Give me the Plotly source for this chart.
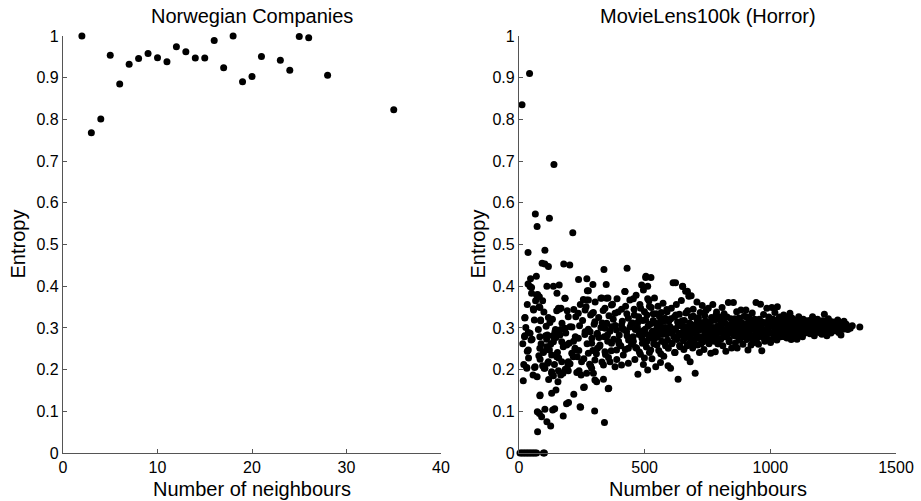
import plotly.graph_objects as go

# ---------------- Norwegian Companies ----------------
nor_neighbours = [2, 3, 4, 5, 6, 7, 8, 9, 10, 11, 12, 13, 14, 15, 16, 17, 18,
                  19, 20, 21, 23, 24, 25, 26, 28, 35]
nor_entropy = [1.0, 0.768, 0.801, 0.954, 0.885, 0.932, 0.946, 0.958, 0.948,
               0.938, 0.974, 0.962, 0.947, 0.947, 0.989, 0.924, 1.0, 0.890,
               0.903, 0.951, 0.942, 0.918, 0.999, 0.996, 0.906, 0.823]

# ---------------- MovieLens100k (Horror) ----------------
sparse_x = [12, 42, 139, 65, 72, 121, 36, 214, 103, 23, 17, 92, 103, 117, 69, 46, 36, 50,
            111, 137, 160, 178, 202, 237, 270, 294, 338, 347, 430, 505, 525, 512, 623, 651,
            670, 677, 685, 329, 354, 390, 422, 455, 495, 512, 272, 256, 276, 292, 183, 151,
            160, 167, 218, 244, 58, 80, 50, 70, 81, 123, 86, 23, 37, 48, 33, 97, 106, 110,
            126, 134, 147, 163, 176, 153, 31, 62, 72, 84, 94, 100, 114, 130, 137, 155, 166,
            175, 184, 195, 203, 216, 223, 232, 239, 247, 257, 269, 285, 296, 302, 309, 336,
            357, 84, 130, 147, 218, 73, 81, 90, 103, 111, 126, 134, 142, 176, 189, 197, 243,
            301, 340, 74, 83, 260, 355, 245]
sparse_y = [0.835, 0.910, 0.692, 0.573, 0.543, 0.563, 0.481, 0.528, 0.486, 0.324, 0.173,
            0.455, 0.453, 0.447, 0.424, 0.418, 0.405, 0.397, 0.400, 0.400, 0.403, 0.453,
            0.451, 0.416, 0.418, 0.404, 0.440, 0.404, 0.443, 0.424, 0.421, 0.400, 0.408,
            0.400, 0.388, 0.377, 0.377, 0.372, 0.372, 0.370, 0.387, 0.370, 0.391, 0.370,
            0.389, 0.368, 0.367, 0.335, 0.371, 0.383, 0.345, 0.347, 0.344, 0.356, 0.343,
            0.351, 0.383, 0.379, 0.375, 0.313, 0.317, 0.281, 0.289, 0.271, 0.244, 0.241,
            0.281, 0.273, 0.261, 0.281, 0.277, 0.283, 0.255, 0.241, 0.203, 0.205, 0.183,
            0.225, 0.209, 0.203, 0.215, 0.191, 0.185, 0.171, 0.187, 0.191, 0.201, 0.211,
            0.214, 0.231, 0.247, 0.231, 0.197, 0.187, 0.157, 0.191, 0.209, 0.191, 0.175,
            0.171, 0.177, 0.155, 0.139, 0.143, 0.151, 0.141, 0.099, 0.095, 0.087, 0.105,
            0.075, 0.065, 0.103, 0.106, 0.089, 0.118, 0.121, 0.111, 0.101, 0.073, 0.051,
            0.137, 0.158, 0.154, 0.110]

sparse2_x = [15, 27, 38, 52, 61, 77, 88, 99, 108, 121,
             133, 145, 158, 171, 186, 199, 211, 224, 238, 19,
             33, 56, 79, 94, 118, 141, 166, 192, 217, 241]
sparse2_y = [0.262, 0.301, 0.228, 0.273, 0.319, 0.296, 0.262, 0.338, 0.304, 0.247,
             0.321, 0.296, 0.228, 0.311, 0.288, 0.263, 0.302, 0.279, 0.246, 0.212,
             0.356, 0.187, 0.233, 0.365, 0.176, 0.212, 0.296, 0.341, 0.268, 0.305]

zero_x = [4, 10, 16, 22, 28, 34, 40, 46, 52, 58, 64, 70, 97, 101]
zero_y = [0, 0, 0, 0, 0, 0, 0, 0, 0, 0, 0, 0, 0, 0]

band0_x = [44, 74, 66, 57, 83, 24, 86, 117, 157, 150, 183, 196, 226, 236, 263, 269, 276,
           296, 302, 326, 348, 342, 368, 382, 408, 421, 441, 435, 183, 203, 143, 113, 157,
           44, 22, 83, 37, 83, 110, 137, 170, 190, 223, 236, 263, 283, 310, 342, 368, 388,
           408, 428, 441, 289, 322, 342, 368, 388, 415, 435, 276, 249, 210, 196, 170, 150,
           130, 117, 97, 302, 336, 362, 382, 408, 435, 289, 31, 64, 103, 130, 157, 196, 230,
           318, 331, 352, 375, 396, 412, 424, 446, 312, 356, 398, 430]
band0_y = [0.399, 0.380, 0.365, 0.346, 0.349, 0.325, 0.319, 0.325, 0.347, 0.341, 0.371,
           0.327, 0.327, 0.335, 0.343, 0.367, 0.389, 0.337, 0.315, 0.371, 0.371, 0.347,
           0.355, 0.335, 0.345, 0.387, 0.367, 0.323, 0.299, 0.303, 0.291, 0.283, 0.285,
           0.287, 0.279, 0.279, 0.247, 0.251, 0.255, 0.267, 0.267, 0.259, 0.251, 0.275,
           0.291, 0.291, 0.285, 0.299, 0.303, 0.295, 0.307, 0.291, 0.275, 0.263, 0.259,
           0.243, 0.263, 0.247, 0.235, 0.251, 0.239, 0.219, 0.239, 0.219, 0.219, 0.231,
           0.235, 0.219, 0.243, 0.223, 0.211, 0.219, 0.207, 0.211, 0.215, 0.203, 0.205,
           0.207, 0.203, 0.195, 0.197, 0.197, 0.193, 0.277, 0.312, 0.283, 0.321, 0.268,
           0.298, 0.352, 0.309, 0.251, 0.229, 0.262, 0.281]

band0b_x = [253, 258, 262, 267, 271, 276, 281, 285, 290, 294,
            299, 303, 308, 312, 317, 321, 326, 330, 335, 339,
            344, 349, 353, 358, 362, 367, 372, 377, 383, 389,
            394, 399, 405, 411, 417, 423, 429, 436, 442, 448]
band0b_y = [0.318, 0.226, 0.284, 0.351, 0.262, 0.297, 0.213, 0.331, 0.275, 0.246,
            0.309, 0.362, 0.238, 0.287, 0.325, 0.256, 0.301, 0.218, 0.342, 0.279,
            0.236, 0.311, 0.268, 0.329, 0.292, 0.245, 0.357, 0.273, 0.306, 0.224,
            0.338, 0.283, 0.257, 0.316, 0.296, 0.248, 0.334, 0.271, 0.302, 0.261]

band1_x = [452, 455, 458, 461, 463, 466, 468, 471, 473, 476, 478, 481, 483, 486, 488, 491,
           493, 495, 497, 499,
           502, 504, 507, 509, 512, 514, 517, 519, 521, 524, 526, 529, 531, 534, 536, 539,
           541, 544, 546, 549,
           551, 553, 556, 558, 561, 563, 566, 568, 571, 573, 576, 578, 581, 583, 586, 588,
           591, 593, 596, 598,
           601, 603, 606, 608, 611, 613, 616, 618, 621, 623, 626, 628, 631, 633, 636, 638,
           641, 644, 646, 649,
           651, 653, 656, 658, 661, 663, 666, 669, 671, 673, 676, 678, 681, 683, 686, 688,
           691, 693, 696, 698,
           701, 703, 706, 708, 711, 714, 716, 718, 721, 724, 726, 729, 731, 734, 736, 739,
           741, 744, 746, 749]
band1_y = [0.312, 0.268, 0.345, 0.224, 0.296, 0.378, 0.251, 0.302, 0.189, 0.327, 0.284,
           0.356, 0.237, 0.291, 0.403, 0.263, 0.318, 0.212, 0.287, 0.339,
           0.297, 0.421, 0.254, 0.331, 0.199, 0.283, 0.365, 0.241, 0.309, 0.276, 0.349,
           0.226, 0.292, 0.318, 0.262, 0.372, 0.286, 0.207, 0.334, 0.301,
           0.278, 0.352, 0.246, 0.311, 0.289, 0.217, 0.337, 0.268, 0.301, 0.359, 0.232,
           0.294, 0.323, 0.257, 0.285, 0.344, 0.271, 0.209, 0.316, 0.292,
           0.303, 0.203, 0.347, 0.262, 0.291, 0.408, 0.279, 0.326, 0.241, 0.298, 0.356,
           0.272, 0.314, 0.177, 0.287, 0.333, 0.255, 0.305, 0.366, 0.282,
           0.399, 0.291, 0.248, 0.318, 0.276, 0.388, 0.302, 0.229, 0.341, 0.284, 0.376,
           0.263, 0.219, 0.309, 0.327, 0.287, 0.252, 0.345, 0.297, 0.272,
           0.191, 0.308, 0.283, 0.362, 0.259, 0.324, 0.295, 0.241, 0.337, 0.279, 0.312,
           0.354, 0.266, 0.298, 0.248, 0.329, 0.287, 0.316, 0.271, 0.303]

band1b_x = [454, 459, 464, 469, 474, 479, 484, 489, 494, 499,
            504, 509, 514, 519, 524, 529, 534, 539, 544, 549,
            554, 559, 564, 569, 574, 579, 584, 589, 594, 599,
            604, 609, 614, 619, 624, 629, 634, 639, 644, 649,
            654, 659, 664, 669, 674, 679, 684, 689, 694, 699,
            704, 709, 714, 719, 724, 729, 734, 739, 744, 749]
band1b_y = [0.279, 0.331, 0.253, 0.298, 0.314, 0.242, 0.347, 0.276, 0.293, 0.228,
            0.319, 0.268, 0.305, 0.352, 0.247, 0.289, 0.334, 0.274, 0.311, 0.259,
            0.296, 0.327, 0.238, 0.284, 0.316, 0.265, 0.301, 0.339, 0.251, 0.288,
            0.322, 0.263, 0.297, 0.241, 0.331, 0.278, 0.306, 0.258, 0.287, 0.317,
            0.269, 0.302, 0.336, 0.257, 0.291, 0.312, 0.274, 0.298, 0.328, 0.261,
            0.289, 0.318, 0.275, 0.304, 0.262, 0.296, 0.313, 0.281, 0.342, 0.291]

band2_x = [751, 753, 756, 758, 761, 763, 766, 768, 771, 773, 776, 778, 781, 783, 786, 788,
           791, 793, 796, 798,
           801, 803, 806, 808, 811, 813, 816, 818, 821, 823, 826, 828, 831, 833, 836, 838,
           841, 843, 846, 848,
           851, 853, 856, 858, 861, 863, 866, 868, 871, 873, 876, 878, 881, 883, 886, 888,
           891, 893, 896, 898,
           901, 903, 906, 908, 911, 913, 916, 918, 921, 923, 926, 928, 931, 933, 936, 938,
           941, 943, 946, 948,
           951, 953, 956, 958, 961, 963, 966, 968, 971, 973, 976, 978, 981, 983, 986, 988,
           991, 993, 996, 998,
           1001, 1003, 1006, 1008, 1011, 1013, 1016, 1018, 1021, 1023, 1026, 1028, 1031,
           1033, 1036, 1038, 1041, 1043, 1046, 1048]
band2_y = [0.286, 0.347, 0.262, 0.311, 0.297, 0.239, 0.325, 0.281, 0.356, 0.301, 0.268,
           0.319, 0.243, 0.292, 0.338, 0.276, 0.305, 0.262, 0.327, 0.289,
           0.318, 0.273, 0.301, 0.349, 0.257, 0.292, 0.334, 0.279, 0.311, 0.244, 0.297,
           0.326, 0.284, 0.361, 0.267, 0.306, 0.289, 0.322, 0.252, 0.296,
           0.303, 0.361, 0.281, 0.317, 0.264, 0.297, 0.339, 0.252, 0.309, 0.287, 0.324,
           0.271, 0.299, 0.343, 0.278, 0.312, 0.261, 0.293, 0.328, 0.284,
           0.295, 0.343, 0.272, 0.311, 0.247, 0.302, 0.326, 0.284, 0.317, 0.259, 0.298,
           0.336, 0.279, 0.308, 0.265, 0.321, 0.289, 0.361, 0.274, 0.305,
           0.307, 0.261, 0.321, 0.283, 0.357, 0.296, 0.245, 0.314, 0.277, 0.332, 0.292,
           0.268, 0.311, 0.286, 0.347, 0.299, 0.273, 0.318, 0.289, 0.303,
           0.265, 0.312, 0.349, 0.288, 0.321, 0.276, 0.302, 0.337, 0.291, 0.314, 0.271,
           0.351, 0.297, 0.282, 0.326, 0.305, 0.279, 0.318, 0.293, 0.309]

band2b_x = [754, 761, 769, 776, 784, 791, 799, 806, 814, 821,
            829, 836, 844, 851, 859, 866, 874, 881, 889, 896,
            904, 911, 919, 926, 934, 941, 949, 956, 964, 971,
            979, 986, 994, 1001, 1009, 1016, 1024, 1031, 1039, 1046]
band2b_y = [0.304, 0.273, 0.318, 0.289, 0.331, 0.262, 0.297, 0.312, 0.281, 0.326,
            0.293, 0.271, 0.308, 0.287, 0.322, 0.296, 0.276, 0.314, 0.301, 0.283,
            0.327, 0.291, 0.306, 0.274, 0.315, 0.298, 0.285, 0.319, 0.301, 0.279,
            0.312, 0.294, 0.326, 0.288, 0.305, 0.281, 0.317, 0.298, 0.308, 0.287]

band3_x = [1051, 1053, 1056, 1058, 1061, 1063, 1066, 1068, 1071, 1073, 1076, 1078, 1081,
           1083, 1086, 1088, 1091, 1093, 1096, 1098,
           1101, 1103, 1106, 1108, 1111, 1113, 1116, 1118, 1121, 1123, 1126, 1128, 1131,
           1133, 1136, 1138, 1141, 1143, 1146, 1148,
           1152, 1155, 1158, 1161, 1165, 1168, 1171, 1175, 1178, 1181, 1185, 1188, 1191,
           1195, 1198,
           1202, 1205, 1208, 1211, 1215, 1218, 1221, 1225, 1228, 1231, 1235, 1238, 1241,
           1245, 1248,
           1252, 1256, 1260, 1264, 1268, 1272, 1277, 1281, 1285, 1289, 1293, 1297,
           1302, 1308, 1314, 1318, 1326, 1356]
band3_y = [0.301, 0.331, 0.279, 0.316, 0.289, 0.307, 0.276, 0.323, 0.295, 0.311, 0.284,
           0.335, 0.298, 0.272, 0.314, 0.292, 0.319, 0.303, 0.281, 0.309,
           0.296, 0.319, 0.273, 0.308, 0.289, 0.327, 0.301, 0.284, 0.314, 0.293, 0.306,
           0.279, 0.321, 0.298, 0.311, 0.288, 0.317, 0.302, 0.291, 0.309,
           0.303, 0.318, 0.286, 0.311, 0.294, 0.327, 0.299, 0.281, 0.314, 0.306, 0.292,
           0.321, 0.301, 0.289, 0.312,
           0.298, 0.285, 0.317, 0.307, 0.333, 0.293, 0.311, 0.281, 0.304, 0.322, 0.296,
           0.309, 0.288, 0.315, 0.302,
           0.306, 0.293, 0.314, 0.301, 0.319, 0.289, 0.308, 0.283, 0.311, 0.297, 0.316,
           0.304,
           0.309, 0.296, 0.302, 0.299, 0.305, 0.302]

band3b_x = [1054, 1062, 1070, 1078, 1086, 1094, 1102, 1110, 1118, 1126,
            1134, 1142, 1150, 1158, 1166, 1174, 1182, 1190, 1198, 1206,
            1214, 1222, 1230, 1238, 1246, 1254, 1262, 1270, 1280, 1290]
band3b_y = [0.318, 0.292, 0.306, 0.287, 0.324, 0.299, 0.312, 0.281, 0.303, 0.318,
            0.294, 0.309, 0.297, 0.314, 0.291, 0.305, 0.319, 0.296, 0.308, 0.293,
            0.311, 0.301, 0.317, 0.295, 0.306, 0.299, 0.311, 0.303, 0.297, 0.308]

horror_x = (sparse_x + sparse2_x + zero_x + band0_x + band0b_x + band1_x + band1b_x
            + band2_x + band2b_x + band3_x + band3b_x)
horror_y = (sparse_y + sparse2_y + zero_y + band0_y + band0b_y + band1_y + band1b_y
            + band2_y + band2b_y + band3_y + band3b_y)

titles = ["Norwegian Companies", "MovieLens100k (Horror)"]
x_title = "Number of neighbours"
y_title = "Entropy"
y_ticks = [0, 0.1, 0.2, 0.3, 0.4, 0.5, 0.6, 0.7, 0.8, 0.9, 1]
y_ticklabels = ["0", "0.1", "0.2", "0.3", "0.4", "0.5", "0.6", "0.7", "0.8", "0.9", "1"]

FONT = "Liberation Sans, Arial, sans-serif"
W, H = 921, 501
marker = dict(color="black", size=7, line=dict(width=0))

fig = go.Figure()
fig.add_trace(go.Scatter(x=nor_neighbours, y=nor_entropy, mode="markers",
                         marker=marker, xaxis="x", yaxis="y", cliponaxis=False,
                         showlegend=False))
fig.add_trace(go.Scatter(x=horror_x, y=horror_y, mode="markers",
                         marker=marker, xaxis="x2", yaxis="y2", cliponaxis=False,
                         showlegend=False))

ydom = [1 - 453 / H, 1 - 36 / H]
axis_common = dict(showgrid=False, zeroline=False, showline=True, linecolor="#555555",
                   linewidth=1.3, ticks="inside", ticklen=4, tickcolor="#555555",
                   automargin=False,
                   tickfont=dict(family=FONT, size=16, color="black"))

fig.update_layout(
    width=W, height=H, margin=dict(l=0, r=0, t=0, b=0, autoexpand=False),
    paper_bgcolor="white", plot_bgcolor="white",
    xaxis=dict(domain=[63 / W, 441 / W], range=[0, 40], tickvals=[0, 10, 20, 30, 40],
               anchor="y", **axis_common),
    yaxis=dict(domain=ydom, range=[0, 1], tickvals=y_ticks, ticktext=y_ticklabels,
               anchor="x", **axis_common),
    xaxis2=dict(domain=[519 / W, 896 / W], range=[0, 1500],
                tickvals=[0, 500, 1000, 1500], anchor="y2", **axis_common),
    yaxis2=dict(domain=ydom, range=[0, 1], tickvals=y_ticks, ticktext=y_ticklabels,
                anchor="x2", **axis_common),
)

annotations = []
centers = [(63 + 441) / 2 / W, (519 + 896) / 2 / W]
for cx, t in zip(centers, titles):
    annotations.append(dict(text=t, x=cx, y=1 - 16 / H, xref="paper", yref="paper",
                            showarrow=False, xanchor="center", yanchor="middle",
                            font=dict(family=FONT, size=20, color="black")))
    annotations.append(dict(text=x_title, x=cx, y=1 - 489 / H, xref="paper", yref="paper",
                            showarrow=False, xanchor="center", yanchor="middle",
                            font=dict(family=FONT, size=20, color="black")))
for yx in [17 / W, 477 / W]:
    annotations.append(dict(text=y_title, x=yx, y=(ydom[0] + ydom[1]) / 2, xref="paper",
                            yref="paper", showarrow=False, textangle=-90,
                            xanchor="center", yanchor="middle",
                            font=dict(family=FONT, size=20, color="black")))
fig.update_layout(annotations=annotations)

fig.write_html("out.html")
